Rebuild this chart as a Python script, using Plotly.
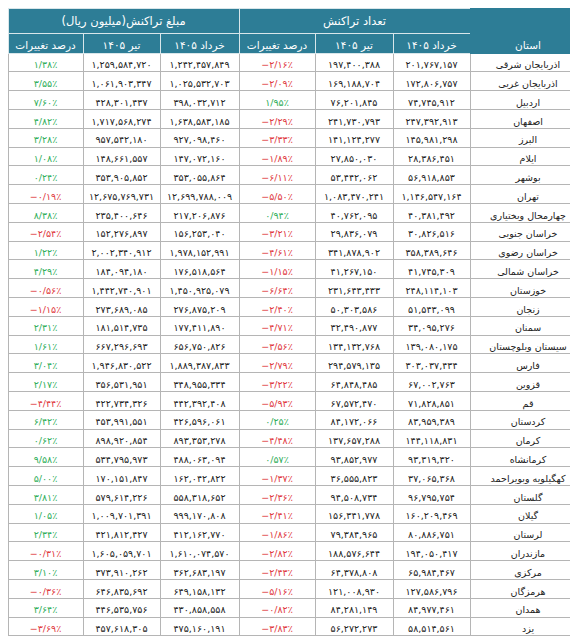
import plotly.graph_objects as go

provinces = ["اذربایجان شرقی","اذربایجان غربی","اردبیل","اصفهان","البرز","ایلام","بوشهر","تهران",
 "چهارمحال وبختیاری","خراسان جنوبی","خراسان رضوی","خراسان شمالی","خوزستان","زنجان","سمنان",
 "سیستان وبلوچستان","فارس","قزوین","قم","کردستان","کرمان","کرمانشاه","کهگیلویه وبویراحمد",
 "گلستان","گیلان","لرستان","مازندران","مرکزی","هرمزگان","همدان","یزد"]
count_khordad = ["201,767,157","172,806,757","74,745,912","247,392,913","145,981,298","28,386,451","56,918,853","1,146,547,164",
 "40,381,492","30,826,516","358,389,646","41,745,309","248,114,103","51,543,099","34,095,276",
 "139,080,175","303,037,434","67,002,763","71,828,851","83,959,389","144,118,831","93,319,320","37,065,368",
 "96,795,754","160,209,469","80,886,751","194,050,417","65,984,467","127,586,796","84,977,461","58,514,561"]
count_tir = ["197,400,388","169,188,704","76,201,845","241,730,793","141,124,277","27,850,030","53,442,062","1,083,470,241",
 "40,762,095","29,836,079","341,878,902","41,267,150","231,643,433","50,303,586","32,490,877",
 "134,132,768","294,579,135","64,848,485","67,572,470","84,172,066","137,657,288","93,852,977","36,555,823",
 "94,508,734","156,341,778","79,384,965","188,576,644","64,378,808","121,008,930","84,281,149","56,272,273"]
count_pct = ["-2/16","-2/09","1/95","-2/29","-3/33","-1/89","-6/11","-5/50","0/94","-3/21","-4/61","-1/15","-6/64","-2/40","-4/71",
 "-3/56","-2/79","-3/22","-5/93","0/25","-4/48","0/57","-1/37","-2/36","-2/41","-1/86","-2/82","-2/43","-5/16","-0/82","-3/83"]
amount_khordad = ["1,242,457,849","1,025,532,703","398,032,712","1,638,583,185","927,098,460","147,072,160","353,055,864","12,699,788,009",
 "217,206,876","156,253,040","1,978,152,991","176,518,564","1,450,925,079","276,875,209","177,411,890",
 "656,750,826","1,889,387,833","348,955,334","442,392,408","426,596,061","893,353,278","488,063,094","162,042,822",
 "558,318,652","999,170,808","412,162,770","1,610,074,570","362,683,197","649,158,132","430,858,558","475,160,191"]
amount_tir = ["1,259,584,720","1,061,903,347","428,301,437","1,717,568,274","957,542,180","148,661,557","353,905,852","12,675,769,731",
 "235,400,646","152,276,897","2,002,340,912","184,094,180","1,442,740,901","273,689,085","181,514,735",
 "667,296,693","1,946,830,522","356,531,951","422,734,326","453,991,551","898,920,854","534,795,973","170,151,847",
 "579,614,226","1,009,701,391","421,812,427","1,605,059,701","373,910,262","646,835,692","446,535,756","457,618,305"]
amount_pct = ["1/38","3/55","7/60","4/82","3/28","1/08","0/24","-0/19","8/38","-2/54","1/22","4/29","-0/56","-1/15","2/31",
 "1/61","3/04","2/17","-4/44","6/42","0/62","9/58","5/00","3/81","1/05","2/34","-0/31","3/10","-0/36","3/64","-3/69"]

FA = str.maketrans("0123456789", "۰۱۲۳۴۵۶۷۸۹")
def fa(s): return s.translate(FA)
def pct(s): return fa(s.replace("-", "−")) + "٪"
def pcol(s): return "#e0393e" if s.startswith("-") else "#2fae5a"
def nb(s): return s.replace(" ", "\u00a0")

TEAL = "#2d7d96"
GRID = "#b5b5b5"
FONT = "DejaVu Sans"
H = 637
top_h = 25

cols = [[pct(v) for v in amount_pct], [fa(v) for v in amount_tir], [fa(v) for v in amount_khordad],
        [pct(v) for v in count_pct], [fa(v) for v in count_tir], [fa(v) for v in count_khordad], [nb(p) for p in provinces]]
colors = [[pcol(v) for v in amount_pct], "#222", "#222", [pcol(v) for v in count_pct], "#222", "#222", "#222"]
widths = [75, 77, 79, 76, 78, 77, 116]
sub = [nb("درصد تغییرات"), nb(fa("تیر 1405")), nb(fa("خرداد 1405"))]

fig = go.Figure()
fig.add_trace(go.Table(
    domain=dict(x=[0, 1], y=[0, 1 - top_h / H]),
    columnwidth=widths,
    header=dict(values=sub + sub + ["استان"],
                fill_color=TEAL, line_color=["#d8e6ea"] * 6 + [TEAL], height=20,
                font=dict(family=FONT, size=10.5, color="white"), align="center"),
    cells=dict(values=cols, fill_color="white", line_color=GRID, height=18.8,
               font=dict(family=FONT, size=9.5, color=colors), align="center"),
))
fig.add_trace(go.Table(
    domain=dict(x=[0, 1], y=[1 - top_h / H, 1]),
    columnwidth=[231, 231, 116],
    header=dict(values=[nb("مبلغ تراکنش(میلیون ریال)"), nb("تعداد تراکنش"), ""],
                fill_color=TEAL, line_color=["#d8e6ea", "#d8e6ea", TEAL], height=25,
                font=dict(family=FONT, size=11.5, color="white"), align="center"),
    cells=dict(values=[[], [], []], height=1),
))
fig.update_layout(width=578, height=H, margin=dict(l=0, r=0, t=0, b=0), paper_bgcolor="white")
fig.write_html("out.html")
